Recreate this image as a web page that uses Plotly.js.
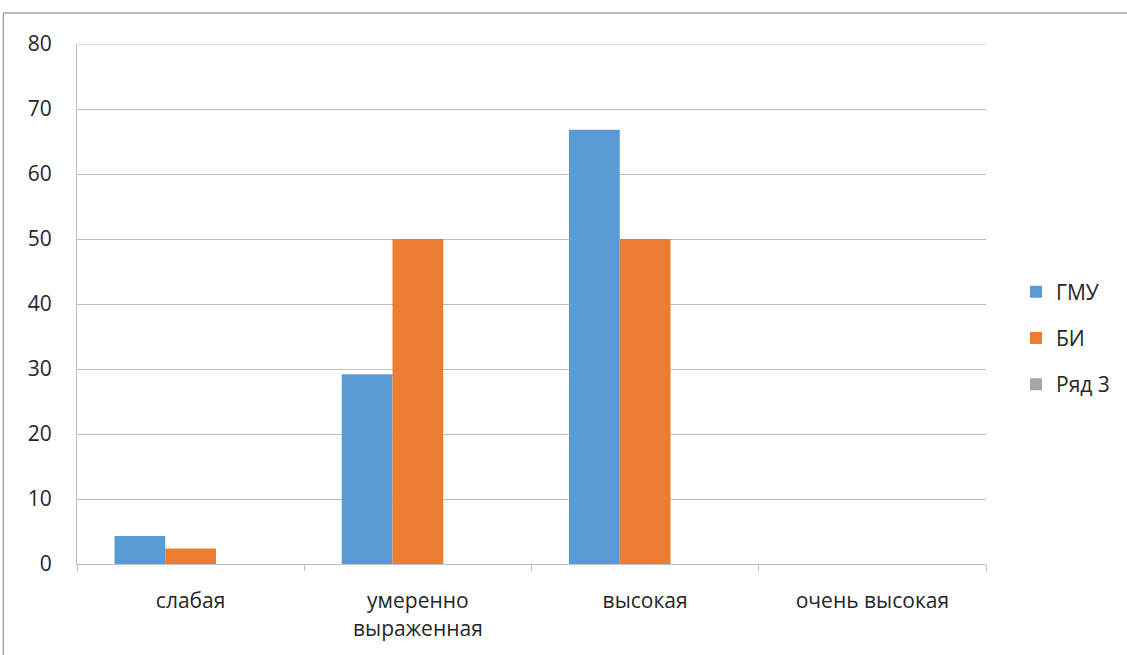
<!DOCTYPE html>
<html>
<head>
<meta charset="utf-8">
<script src="https://cdn.plot.ly/plotly-3.0.1.min.js"></script>
<style>html,body{margin:0;padding:0;background:#fff;}#chart{width:1127px;height:655px;}</style>
</head>
<body>
<div id="chart"></div>
<script>
const categories = ["слабая", "умеренно<br>выраженная", "высокая", "очень высокая"];
const seriesNames = ["ГМУ", "БИ", "Ряд 3"];
const gmu = [4.3, 29.2, 66.8, 0];
const bi = [2.4, 50, 50, 0];
const row3 = [0, 0, 0, 0];
const yTicks = [0, 10, 20, 30, 40, 50, 60, 70, 80];
const colors = ["#5b9bd5", "#ed7d31", "#a5a5a5"];

const seriesValues = [gmu, bi, row3];
const traces = seriesValues.map((vals, i) => ({
  type: "bar",
  name: seriesNames[i],
  x: categories,
  y: vals,
  marker: {color: colors[i]},
  legendgroup: "g" + i,
  hoverinfo: "x+y+name"
}));

const font = "'Open Sans', sans-serif";
const txt = "#262626";
const yMax = yTicks[yTicks.length - 1];
const layout = {
  width: 1127, height: 655,
  margin: {l: 77, r: 137, t: 44, b: 91},
  paper_bgcolor: "#fff", plot_bgcolor: "#fff",
  barmode: "group",
  bargap: 0.33, bargroupgap: 0,
  font: {family: font, size: 21, color: txt},
  xaxis: {
    type: "category",
    tickson: "boundaries",
    ticks: "outside", ticklen: 6, tickcolor: "#bfbfbf",
    showline: true, linecolor: "#bfbfbf", linewidth: 1,
    showgrid: false,
    ticklabelstandoff: 18,
    tickfont: {family: font, size: 21, color: txt}
  },
  yaxis: {
    range: [0, yMax],
    tickvals: yTicks,
    ticktext: yTicks.map(String),
    showgrid: true, gridcolor: "#bfbfbf", gridwidth: 1,
    showline: true, linecolor: "#bfbfbf", linewidth: 1,
    zeroline: false,
    ticks: "",
    ticklabelstandoff: 20,
    tickfont: {family: font, size: 21, color: txt}
  },
  legend: {
    x: 1.033, xanchor: "left", y: 0.4346, yanchor: "middle",
    font: {family: font, size: 21, color: txt},
    tracegroupgap: 16,
    itemwidth: 30
  },
  showlegend: true,
  shapes: [
    {type: "line", xref: "paper", yref: "y", x0: 0, x1: 1, y0: yMax, y1: yMax, line: {color: "#bfbfbf", width: 1}},
    {type: "line", xref: "paper", yref: "paper", x0: -0.081, x1: 1.2, y0: 1.0596, y1: 1.0596, line: {color: "#a6a6a6", width: 1.5}},
    {type: "line", xref: "paper", yref: "paper", x0: -0.081, x1: -0.081, y0: 1.0596, y1: -0.2, line: {color: "#a6a6a6", width: 1.5}}
  ]
};

Plotly.newPlot("chart", traces, layout, {displayModeBar: false, staticPlot: true});
</script>
</body>
</html>
